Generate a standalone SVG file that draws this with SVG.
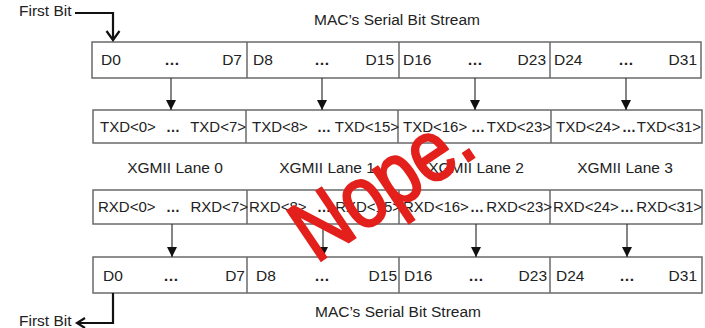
<svg xmlns="http://www.w3.org/2000/svg" width="705" height="328" viewBox="0 0 705 328">
<defs>
<style>
.box{fill:#fff;stroke:#6a6a6a;stroke-width:1.5}
.div{stroke:#6a6a6a;stroke-width:1.5}
text{font-family:"Liberation Sans",Arial,sans-serif;font-size:15.5px;fill:#222}
.row text{font-size:15px}
.s{text-anchor:start}
.e{text-anchor:end}
.m{text-anchor:middle}
.dots{font-weight:bold;text-anchor:middle}
.row .dots{font-size:14px}
.conn{stroke:#333;stroke-width:1.2;fill:none}
.fb{stroke:#111;stroke-width:2.2;fill:none}
.nope{font-family:"Liberation Sans",Arial,sans-serif;font-size:74px;fill:#e3201b;stroke:#e3201b;stroke-width:2}
</style>
<marker id="tri" viewBox="0 0 10 10" refX="10" refY="5" markerWidth="10" markerHeight="10" markerUnits="userSpaceOnUse" orient="auto">
<path d="M0,0 L10,5 L0,10 Z" fill="#111"/>
</marker>
</defs>
<rect width="705" height="328" fill="#fff"/>

<g id="title-top"><text x="314" y="25">MAC’s Serial Bit Stream</text></g>
<g id="first-bit-top"><text x="19" y="16">First Bit</text></g>

<g id="mac-top">
<rect class="box" x="92" y="42" width="609" height="36"/>
<line class="div" x1="247" y1="42" x2="247" y2="78"/>
<line class="div" x1="399" y1="42" x2="399" y2="78"/>
<line class="div" x1="550" y1="42" x2="550" y2="78"/>
<text class="s" x="101" y="65">D0</text><text class="dots" x="172" y="65">…</text><text class="e" x="242" y="65">D7</text>
<text class="s" x="253" y="65">D8</text><text class="dots" x="322" y="65">…</text><text class="e" x="394" y="65">D15</text>
<text class="s" x="403" y="65">D16</text><text class="dots" x="475" y="65">…</text><text class="e" x="546" y="65">D23</text>
<text class="s" x="554" y="65">D24</text><text class="dots" x="626" y="65">…</text><text class="e" x="697" y="65">D31</text>
</g>

<g id="txd" class="row">
<rect class="box" x="93" y="110" width="609" height="33"/>
<line class="div" x1="246" y1="110" x2="246" y2="143"/>
<line class="div" x1="398" y1="110" x2="398" y2="143"/>
<line class="div" x1="551" y1="110" x2="551" y2="143"/>
<text class="s" x="100" y="132">TXD&lt;0&gt;</text><text class="dots" x="173" y="132">…</text><text class="e" x="246" y="132">TXD&lt;7&gt;</text>
<text class="s" x="252" y="132">TXD&lt;8&gt;</text><text class="dots" x="324" y="132">…</text><text class="e" x="399" y="132">TXD&lt;15&gt;</text>
<text class="s" x="403" y="132">TXD&lt;16&gt;</text><text class="dots" x="478" y="132">…</text><text class="e" x="551" y="132">TXD&lt;23&gt;</text>
<text class="s" x="556" y="132">TXD&lt;24&gt;</text><text class="dots" x="629" y="132">…</text><text class="e" x="701" y="132">TXD&lt;31&gt;</text>
</g>

<g id="lanes">
<text class="m" x="175" y="173">XGMII Lane 0</text>
<text class="m" x="327" y="173">XGMII Lane 1</text>
<text class="m" x="476" y="173">XGMII Lane 2</text>
<text class="m" x="625" y="173">XGMII Lane 3</text>
</g>

<g id="rxd" class="row">
<rect class="box" x="93" y="190" width="609" height="34"/>
<line class="div" x1="247" y1="190" x2="247" y2="224"/>
<line class="div" x1="399" y1="190" x2="399" y2="224"/>
<line class="div" x1="550" y1="190" x2="550" y2="224"/>
<text class="s" x="98" y="212">RXD&lt;0&gt;</text><text class="dots" x="173" y="212">…</text><text class="e" x="248" y="212">RXD&lt;7&gt;</text>
<text class="s" x="249" y="212">RXD&lt;8&gt;</text><text class="dots" x="324" y="212">…</text><text class="e" x="401" y="212">RXD&lt;15&gt;</text>
<text class="s" x="403" y="212">RXD&lt;16&gt;</text><text class="dots" x="477" y="212">…</text><text class="e" x="552" y="212">RXD&lt;23&gt;</text>
<text class="s" x="553" y="212">RXD&lt;24&gt;</text><text class="dots" x="627" y="212">…</text><text class="e" x="702" y="212">RXD&lt;31&gt;</text>
</g>

<g id="mac-bottom">
<rect class="box" x="93" y="257" width="609" height="36"/>
<line class="div" x1="247" y1="257" x2="247" y2="293"/>
<line class="div" x1="399" y1="257" x2="399" y2="293"/>
<line class="div" x1="550" y1="257" x2="550" y2="293"/>
<text class="s" x="103" y="281">D0</text><text class="dots" x="171" y="281">…</text><text class="e" x="245" y="281">D7</text>
<text class="s" x="256" y="281">D8</text><text class="dots" x="322" y="281">…</text><text class="e" x="397" y="281">D15</text>
<text class="s" x="404" y="281">D16</text><text class="dots" x="476" y="281">…</text><text class="e" x="547" y="281">D23</text>
<text class="s" x="556" y="281">D24</text><text class="dots" x="627" y="281">…</text><text class="e" x="697" y="281">D31</text>
</g>

<g id="title-bottom"><text x="315" y="317">MAC’s Serial Bit Stream</text></g>
<g id="first-bit-bottom"><text x="19" y="326">First Bit</text></g>

<g id="connectors">
<line class="conn" x1="171" y1="78" x2="171" y2="110" marker-end="url(#tri)"/>
<line class="conn" x1="322" y1="78" x2="322" y2="110" marker-end="url(#tri)"/>
<line class="conn" x1="475" y1="78" x2="475" y2="110" marker-end="url(#tri)"/>
<line class="conn" x1="626" y1="78" x2="626" y2="110" marker-end="url(#tri)"/>
<line class="conn" x1="172" y1="224" x2="172" y2="257" marker-end="url(#tri)"/>
<line class="conn" x1="323" y1="224" x2="323" y2="257" marker-end="url(#tri)"/>
<line class="conn" x1="476" y1="224" x2="476" y2="257" marker-end="url(#tri)"/>
<line class="conn" x1="627" y1="224" x2="627" y2="257" marker-end="url(#tri)"/>
<polyline class="fb" points="75,13 113,13 113,40"/>
<polyline class="fb" points="106.5,31 113,40 119.5,31"/>
<polyline class="fb" points="113,293 113,323 77,323"/>
<polyline class="fb" points="85,318 77,323 85,328"/>
</g>

<g id="stamp">
<text class="nope" transform="translate(316,264) rotate(-34) scale(1,1.18)">Nope.</text>
</g>
</svg>
